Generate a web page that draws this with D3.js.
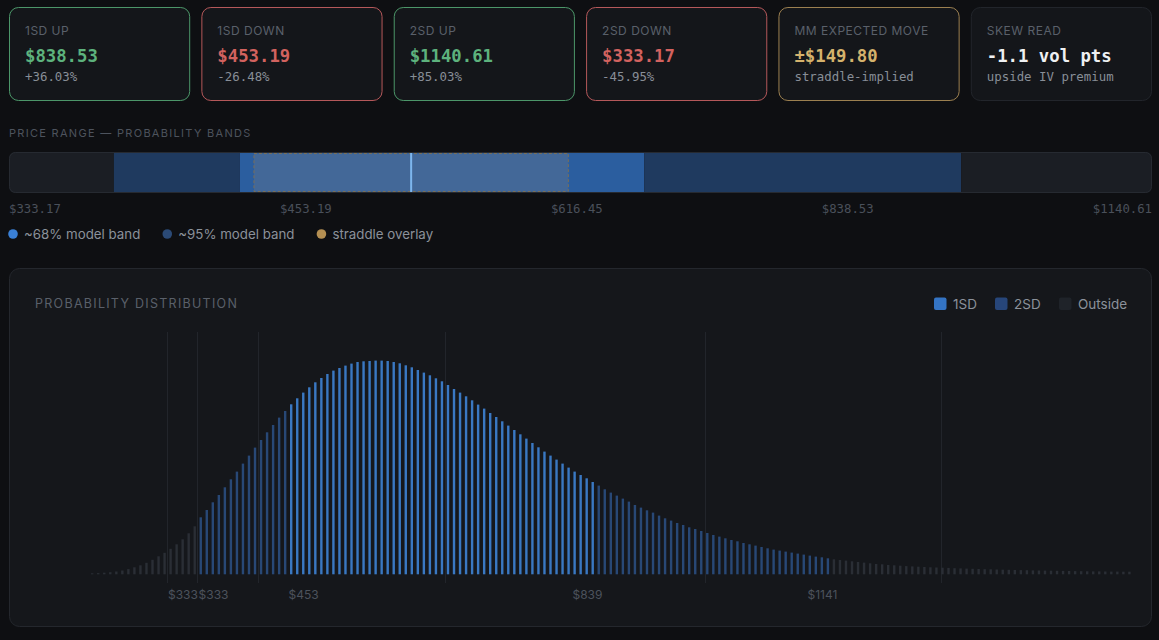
<!DOCTYPE html>
<html><head><meta charset="utf-8">
<script src="https://cdn.jsdelivr.net/npm/d3@7"></script>
<style>
html,body{margin:0;padding:0;background:#0e0f12;overflow:hidden}
svg{display:block}
</style></head><body>
<svg id="c" width="1159" height="640"></svg>
<script>
// ---------- DATA ----------
const cardLabels = ["1SD UP", "1SD DOWN", "2SD UP", "2SD DOWN", "MM EXPECTED MOVE", "SKEW READ"];
const cardValues = ["$838.53", "$453.19", "$1140.61", "$333.17", "±$149.80", "-1.1 vol pts"];
const cardSubs = ["+36.03%", "-26.48%", "+85.03%", "-45.95%", "straddle-implied", "upside IV premium"];
const cardTones = ["up", "down", "up", "down", "mm", "neutral"];

const spot = 616.45;
const band1SD = [453.19, 838.53];
const band2SD = [333.17, 1140.61];
const straddleMove = 149.80;
const rangeDomain = [233.2, 1322.5];
const rangeTickLabels = ["$333.17", "$453.19", "$616.45", "$838.53", "$1140.61"];
const rangeLegend = ["~68% model band", "~95% model band", "straddle overlay"];

const distLegend = ["1SD", "2SD", "Outside"];
const priceStart = 201.8, priceStep = 7.66;
const distValues = [
  1, 1.2, 1.6, 2.1, 2.8, 3.8, 5.2, 7, 9, 11.5, 14.5, 18, 21.5, 25.5, 30, 35, 41, 48,
  57, 64.3, 72, 79.3, 87, 95, 102.7, 110.7, 118.7, 126.7, 134.3, 142, 149.3, 156.7, 163.3, 170, 176, 181.7, 187, 192, 196.3, 200.3, 203.7, 206.3, 208.7, 210.7, 212.3,
  213, 213.3, 213.7, 213.7, 213.3, 212.3, 211, 209, 207, 204.3, 201.7, 199, 196, 193, 189.3, 185.3, 181.7, 178, 174, 169.7, 165.7, 161.3, 157.3, 153, 148.7, 144.3, 140, 135.7, 131.3, 127, 122.7, 118.7, 114.7, 110.7, 106.7, 102.7, 99.3, 96, 92.3, 88.7, 85, 81.7, 78.7, 75.7, 72.7,
  69.3, 66.7, 64, 61.7, 58.7, 56, 53.7, 51.3, 49.3, 47, 45.3, 43.3, 41.3, 39.3, 37.7, 36, 34.3, 33, 31.3, 30, 28.7, 27.3, 26, 24.7, 23.7, 22.7, 21.7, 20.7, 19.7, 18.7, 17.7, 17, 16, 15, 14.3, 13.7, 13, 12.3, 11.7, 11, 10.3, 10, 9.3, 9,
  8.6, 8.2, 7.9, 7.6, 7.3, 7.0, 6.8, 6.6, 6.4, 6.1, 5.9, 5.7, 5.5, 5.3, 5.1, 5.0, 4.8, 4.6, 4.5, 4.3, 4.2, 4.1, 3.9, 3.8, 3.7, 3.6, 3.5, 3.4, 3.3, 3.2, 3.1, 3.0, 2.9, 2.9, 2.8, 2.7, 2.7, 2.6, 2.6
];
const gridPrices = [296.4, 335.3, 412.8, 649.9, 980.1, 1279.5];
const axisTickLabels = ["$333", "$333", "$453", "$839", "$1141"];
const axisTickPrices = [317.1, 355.9, 470.4, 830.9, 1129.4];

// ---------- STYLE ----------
const SANS = "Inter, 'Noto Sans', sans-serif";
const MONO = "'DejaVu Sans Mono', 'Liberation Mono', monospace";
const toneStroke = {up: "#4c9669", down: "#b5585a", mm: "#9c8050", neutral: "#22252b"};
const toneValue = {up: "#5db27d", down: "#d2625f", mm: "#d5b26c", neutral: "#eef0f2"};
const C1 = "#3a78c2", C2 = "#284876", C0 = "#2a2e35";

const svg = d3.select("#c");
svg.append("rect").attr("width", 1159).attr("height", 640).attr("fill", "#0e0f12");

// ---------- CARDS ----------
const cardX = d3.scaleBand().domain(d3.range(cardLabels.length)).range([9, 1152]).paddingInner(0.058);
const cards = svg.selectAll("g.card").data(cardLabels).join("g")
  .attr("transform", (d, i) => `translate(${cardX(i)},7)`);
cards.append("rect").attr("x", 0.5).attr("y", 0.5)
  .attr("width", cardX.bandwidth() - 1).attr("height", 93).attr("rx", 9)
  .attr("fill", "#14161a").attr("stroke", (d, i) => toneStroke[cardTones[i]]);
cards.append("text").attr("x", 16).attr("y", 27.5).text(d => d)
  .attr("font-family", SANS).attr("font-size", 12).attr("letter-spacing", 0.5).attr("fill", "#5a606a");
cards.append("text").attr("x", 16).attr("y", 54.5).text((d, i) => cardValues[i])
  .attr("font-family", MONO).attr("font-weight", "bold").attr("font-size", 17.3)
  .attr("fill", (d, i) => toneValue[cardTones[i]]);
cards.append("text").attr("x", 16).attr("y", 73.5).text((d, i) => cardSubs[i])
  .attr("font-family", MONO).attr("font-size", 12.4).attr("fill", "#888e97");

// ---------- PRICE RANGE ----------
svg.append("text").attr("x", 9).attr("y", 137).text("PRICE RANGE — PROBABILITY BANDS")
  .attr("font-family", SANS).attr("font-size", 11).attr("letter-spacing", 1.3).attr("fill", "#4d535d");
const xr = d3.scaleLinear().domain(rangeDomain).range([9, 1152]);
const barY = 152, barH = 41;
svg.append("clipPath").attr("id", "rclip").append("rect")
  .attr("x", 9).attr("y", barY).attr("width", 1143).attr("height", barH).attr("rx", 6);
const rg = svg.append("g").attr("clip-path", "url(#rclip)");
const segs = [
  [rangeDomain[0], band2SD[0], "#1b1e24"],
  [band2SD[0], band1SD[0], "#1f3a5f"],
  [band1SD[0], band1SD[1], "#2b5e9f"],
  [band1SD[1], band2SD[1], "#1f3a5f"],
  [band2SD[1], rangeDomain[1], "#1b1e24"]
];
rg.selectAll("rect.seg").data(segs).join("rect")
  .attr("x", d => xr(d[0])).attr("y", barY).attr("width", d => xr(d[1]) - xr(d[0])).attr("height", barH)
  .attr("fill", d => d[2]);
rg.append("rect").attr("x", xr(spot - straddleMove)).attr("y", barY + 1.5)
  .attr("width", xr(spot + straddleMove) - xr(spot - straddleMove)).attr("height", barH - 3)
  .attr("fill", "#436898").attr("stroke", "#7a6f58").attr("stroke-dasharray", "3,2");
rg.append("line").attr("x1", xr(spot)).attr("x2", xr(spot)).attr("y1", barY).attr("y2", barY + barH)
  .attr("stroke", "#7db6ee").attr("stroke-width", 2);
svg.append("rect").attr("x", 9.5).attr("y", barY + 0.5).attr("width", 1142).attr("height", barH - 1).attr("rx", 6)
  .attr("fill", "none").attr("stroke", "#262a31");

// labels spaced evenly (space-between)
const rl = svg.append("g").selectAll("text").data(rangeTickLabels).join("text")
  .attr("y", 213).text(d => d)
  .attr("font-family", MONO).attr("font-size", 12.3).attr("fill", "#4a505a");
const widths = [];
rl.each(function () { widths.push(this.getComputedTextLength()); });
const gap = (1143 - d3.sum(widths)) / (widths.length - 1);
let cx = 9;
rl.attr("x", (d, i) => { const x = cx; cx += widths[i] + gap; return x; });

const legColors = ["#3a80d6", "#2b4a76", "#b48f52"];
const lg = svg.append("g");
let lx = 13;
rangeLegend.forEach((t, i) => {
  lg.append("circle").attr("cx", lx).attr("cy", 234).attr("r", 4.8).attr("fill", legColors[i]);
  const tx = lg.append("text").attr("x", lx + 11).attr("y", 238.5).text(t)
    .attr("font-family", SANS).attr("font-size", 13.3).attr("fill", "#8b919a");
  lx += 11 + tx.node().getComputedTextLength() + 27;
});

// ---------- DISTRIBUTION PANEL ----------
svg.append("rect").attr("x", 9.5).attr("y", 268.5).attr("width", 1142).attr("height", 358).attr("rx", 10)
  .attr("fill", "#15171b").attr("stroke", "#24272d");
svg.append("text").attr("x", 35).attr("y", 308).text("PROBABILITY DISTRIBUTION")
  .attr("font-family", SANS).attr("font-size", 12.5).attr("letter-spacing", 1.28).attr("fill", "#5a606a");

const dl = svg.append("g");
const dlColors = ["#3474c4", "#27467a", "#1f2329"];
const dlX = [934, 995, 1059];
distLegend.forEach((t, i) => {
  dl.append("rect").attr("x", dlX[i]).attr("y", 297.5).attr("width", 12.5).attr("height", 12.5).attr("rx", 2)
    .attr("fill", dlColors[i]);
  dl.append("text").attr("x", dlX[i] + 19).attr("y", 308.5).text(t)
    .attr("font-family", SANS).attr("font-size", 13.5).attr("fill", "#8b919a");
});

const distPrices = distValues.map((_, i) => priceStart + i * priceStep);
const x = d3.scaleLinear().domain([priceStart, priceStart + (distValues.length - 1) * priceStep]).range([92.2, 1129.4]);
const y = d3.scaleLinear().domain([0, d3.max(distValues)]).range([574.3, 360.6]);

svg.append("g").selectAll("line").data(gridPrices).join("line")
  .attr("x1", d => Math.round(x(d)) + 0.5).attr("x2", d => Math.round(x(d)) + 0.5)
  .attr("y1", 332).attr("y2", 583).attr("stroke", "#22252b").attr("stroke-width", 1);

const bandOf = p => (p >= band1SD[0] && p <= band1SD[1]) ? C1 : (p >= band2SD[0] && p <= band2SD[1]) ? C2 : C0;
const bw = 2.4;
svg.append("g").selectAll("rect").data(distValues).join("rect")
  .attr("x", (d, i) => x(distPrices[i]) - bw / 2).attr("width", bw)
  .attr("y", d => y(d)).attr("height", d => y(0) - y(d))
  .attr("fill", (d, i) => bandOf(distPrices[i]));

svg.append("g").selectAll("text").data(axisTickLabels).join("text")
  .attr("x", (d, i) => x(axisTickPrices[i])).attr("y", 598.5).attr("text-anchor", "middle").text(d => d)
  .attr("font-family", SANS).attr("font-size", 12).attr("fill", "#4c525c");
</script></body></html>
